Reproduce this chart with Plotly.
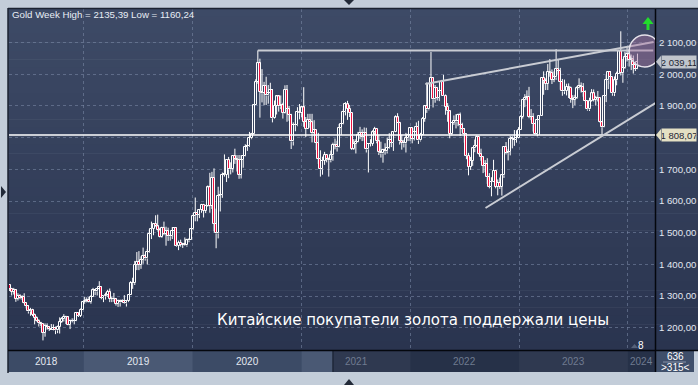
import plotly.graph_objects as go
import pandas as pd

# ---------------- data: weekly gold OHLC ----------------
opens = [
    # 2018 (from 27 Apr)
    1336, 1323, 1314, 1319, 1291, 1301, 1294, 1298, 1278, 1270, 1252, 1256, 1241, 1231, 1223, 1214, 1212, 1184,
    1206, 1201, 1196, 1194, 1199, 1192, 1203, 1218, 1227, 1235, 1233, 1209, 1222, 1223, 1222, 1248, 1238, 1257,
    # 2019
    1281, 1285, 1289, 1282, 1298, 1318, 1315, 1322, 1328, 1294, 1299, 1302, 1313, 1292, 1291, 1290, 1276, 1286,
    1280, 1286, 1277, 1284, 1305, 1341, 1341, 1399, 1409, 1399, 1415, 1426, 1419, 1440, 1497, 1513, 1527, 1520,
    1507, 1488, 1516, 1497, 1505, 1489, 1490, 1505, 1514, 1459, 1468, 1462, 1464, 1460, 1476, 1478,
    # 2020
    1511, 1552, 1562, 1557, 1571, 1589, 1570, 1584, 1643, 1585, 1674, 1529, 1498, 1617, 1620, 1683, 1683, 1729,
    1700, 1702, 1743, 1734, 1730, 1683, 1730, 1743, 1771, 1774, 1798, 1810, 1902, 1975, 2035, 1944, 1940, 1964,
    1933, 1940, 1950, 1861, 1900, 1930, 1899, 1902, 1879, 1951, 1889, 1871, 1788, 1839, 1839, 1881,
    # 2021
    1877, 1895, 1850, 1828, 1856, 1848, 1814, 1824, 1784, 1734, 1700, 1727, 1745, 1732, 1729, 1744, 1777, 1777,
    1769, 1831, 1843, 1881, 1905, 1891, 1877, 1764, 1781, 1787, 1808, 1815, 1802, 1814, 1763, 1780, 1781, 1817,
    1827, 1788, 1754, 1750, 1761, 1757, 1768, 1793, 1783, 1818, 1864, 1846, 1788, 1783, 1782, 1798, 1808,
    # 2022
    1829, 1797, 1818, 1835, 1791, 1808, 1860, 1899, 1889, 1970, 1988, 1921, 1958, 1925, 1946, 1975, 1931, 1897,
    1883, 1811, 1846, 1853, 1851, 1871, 1840, 1827, 1811, 1742, 1708, 1727, 1766, 1775, 1802, 1747, 1738, 1712,
    1716, 1675, 1644, 1661, 1695, 1644, 1657, 1645, 1681, 1771, 1751, 1755, 1797, 1797, 1793, 1798,
    # 2023
    1824, 1865, 1920, 1926, 1928, 1865, 1865, 1842, 1811, 1856, 1868, 1989, 1978, 1969, 2008, 2004, 1983, 1990,
    2017, 2011, 1977, 1946, 1948, 1961, 1958, 1921, 1919, 1925, 1955, 1962, 1959, 1943, 1914, 1889, 1915, 1940,
    1919, 1924, 1925, 1848, 1833, 1932, 1981, 2006, 1992, 1940, 1981, 2002, 2072, 2004, 2020, 2053,
    # 2024
    2063, 2045, 2049, 2029, 2018,
]
highs = [
    1338, 1326, 1326, 1322, 1309, 1306, 1303, 1309, 1280, 1272, 1263, 1260, 1245, 1236, 1227, 1219, 1212, 1214,
    1214, 1206, 1212, 1211, 1204, 1207, 1233, 1234, 1243, 1238, 1237, 1226, 1230, 1230, 1250, 1250, 1261, 1283,
    1298, 1296, 1297, 1303, 1326, 1319, 1326, 1347, 1330, 1300, 1311, 1320, 1324, 1298, 1310, 1293, 1289, 1289,
    1290, 1303, 1288, 1306, 1347, 1358, 1411, 1439, 1442, 1425, 1453, 1433, 1449, 1510, 1535, 1530, 1555, 1557,
    1516, 1519, 1535, 1519, 1516, 1498, 1518, 1516, 1516, 1475, 1478, 1468, 1485, 1481, 1483, 1513,
    1556, 1611, 1564, 1575, 1591, 1591, 1588, 1649, 1689, 1692, 1703, 1576, 1645, 1633, 1690, 1747, 1729, 1739,
    1722, 1744, 1765, 1745, 1745, 1745, 1745, 1779, 1789, 1818, 1815, 1905, 1984, 2075, 2049, 2016, 1976, 1992,
    1966, 1973, 1953, 1917, 1933, 1933, 1933, 1910, 1965, 1966, 1900, 1875, 1848, 1875, 1896, 1906,
    1900, 1959, 1865, 1875, 1875, 1875, 1855, 1824, 1815, 1760, 1740, 1755, 1746, 1737, 1759, 1784, 1797, 1790,
    1843, 1846, 1890, 1912, 1916, 1903, 1877, 1795, 1795, 1818, 1834, 1826, 1832, 1831, 1782, 1795, 1823, 1834,
    1827, 1809, 1787, 1765, 1782, 1800, 1814, 1813, 1818, 1870, 1877, 1850, 1809, 1793, 1815, 1812, 1831,
    1832, 1830, 1848, 1853, 1815, 1865, 1902, 1974, 1970, 2070, 1990, 1966, 1960, 1948, 1982, 1998, 1936, 1909,
    1885, 1849, 1870, 1874, 1876, 1879, 1847, 1830, 1813, 1752, 1739, 1767, 1794, 1807, 1802, 1765, 1740, 1729,
    1735, 1688, 1675, 1730, 1697, 1668, 1674, 1682, 1773, 1786, 1764, 1805, 1804, 1824, 1823, 1833,
    1870, 1922, 1937, 1949, 1960, 1890, 1877, 1847, 1858, 1870, 1989, 2009, 1987, 2032, 2048, 2015, 2009, 2079,
    2048, 2020, 1985, 1983, 1970, 1971, 1961, 1934, 1935, 1963, 1987, 1974, 1972, 1949, 1917, 1926, 1953, 1952,
    1932, 1947, 1927, 1850, 1933, 1997, 2010, 2010, 1992, 1993, 2008, 2075, 2135.39, 2048, 2071, 2088,
    2078, 2062, 2059, 2036, 2065,
]
lows = [
    1316, 1302, 1305, 1282, 1286, 1290, 1288, 1276, 1261, 1245, 1238, 1237, 1211, 1220, 1204, 1205, 1160.24, 1172,
    1194, 1190, 1193, 1192, 1180, 1183, 1182, 1215, 1220, 1212, 1208, 1196, 1217, 1211, 1221, 1234, 1234, 1256,
    1276, 1280, 1280, 1276, 1297, 1303, 1302, 1320, 1290, 1281, 1289, 1298, 1281, 1281, 1282, 1270, 1266, 1267,
    1279, 1275, 1267, 1281, 1305, 1323, 1335, 1382, 1382, 1386, 1402, 1412, 1400, 1437, 1480, 1492, 1518, 1504,
    1485, 1484, 1492, 1459, 1474, 1475, 1480, 1487, 1456, 1445, 1456, 1452, 1458, 1456, 1470, 1478,
    1508, 1536, 1536, 1546, 1563, 1548, 1562, 1582, 1563, 1575, 1504, 1451, 1482, 1567, 1610, 1677, 1660, 1672,
    1684, 1690, 1717, 1693, 1670, 1671, 1705, 1741, 1758, 1771, 1795, 1808, 1902, 1970, 1863, 1911, 1902, 1903,
    1907, 1930, 1848, 1859, 1873, 1882, 1890, 1860, 1876, 1850, 1853, 1764, 1775, 1820, 1836, 1858,
    1864, 1834, 1802, 1827, 1831, 1785, 1806, 1761, 1717, 1677, 1683, 1714, 1722, 1677, 1722, 1727, 1763, 1756,
    1768, 1808, 1842, 1870, 1856, 1865, 1761, 1761, 1750, 1785, 1795, 1789, 1790, 1753, 1690, 1772, 1774, 1808,
    1782, 1745, 1737, 1721, 1746, 1750, 1765, 1770, 1758, 1817, 1846, 1778, 1762, 1769, 1753, 1789, 1789,
    1782, 1791, 1805, 1780, 1788, 1807, 1850, 1878, 1886, 1960, 1895, 1910, 1917, 1915, 1941, 1931, 1872, 1850,
    1798, 1807, 1840, 1829, 1836, 1805, 1816, 1784, 1732, 1681, 1698, 1711, 1754, 1771, 1745, 1727, 1688, 1691,
    1654, 1640, 1615, 1660, 1640, 1618, 1638, 1617, 1673, 1747, 1728, 1744, 1766, 1774, 1784, 1797,
    1824, 1860, 1896, 1918, 1861, 1855, 1819, 1809, 1804, 1809, 1868, 1935, 1950, 1950, 1992, 1969, 1975, 1982,
    2000, 1951, 1932, 1937, 1933, 1925, 1910, 1893, 1902, 1922, 1952, 1942, 1929, 1911, 1885, 1884, 1913, 1914,
    1901, 1914, 1846, 1810, 1832, 1912, 1953, 1969, 1932, 1931, 1965, 2001, 1996, 1973, 2017, 2040,
    2024, 2013, 2002, 2010, 2016,
]
closes = [
    1323, 1314, 1319, 1291, 1301, 1294, 1298, 1278, 1270, 1252, 1256, 1241, 1231, 1223, 1214, 1212, 1184, 1206,
    1201, 1196, 1194, 1199, 1192, 1203, 1218, 1227, 1235, 1233, 1209, 1222, 1223, 1222, 1248, 1238, 1257, 1281,
    1285, 1289, 1282, 1298, 1318, 1315, 1322, 1328, 1294, 1299, 1302, 1313, 1292, 1291, 1290, 1276, 1286, 1280,
    1286, 1277, 1284, 1305, 1341, 1341, 1399, 1409, 1399, 1415, 1426, 1419, 1440, 1497, 1513, 1527, 1520, 1507,
    1488, 1516, 1497, 1505, 1489, 1490, 1505, 1514, 1459, 1468, 1462, 1464, 1460, 1476, 1478, 1511,
    1552, 1562, 1557, 1571, 1589, 1570, 1584, 1643, 1585, 1674, 1529, 1498, 1617, 1620, 1683, 1683, 1729, 1700,
    1702, 1743, 1734, 1730, 1683, 1730, 1743, 1771, 1774, 1798, 1810, 1902, 1975, 2035, 1944, 1940, 1964, 1933,
    1940, 1950, 1861, 1900, 1930, 1899, 1902, 1879, 1951, 1889, 1871, 1788, 1839, 1839, 1881, 1877,
    1895, 1850, 1828, 1856, 1848, 1814, 1824, 1784, 1734, 1700, 1727, 1745, 1732, 1729, 1744, 1777, 1777, 1769,
    1831, 1843, 1881, 1905, 1891, 1877, 1764, 1781, 1787, 1808, 1815, 1802, 1814, 1763, 1780, 1781, 1817, 1827,
    1788, 1754, 1750, 1761, 1757, 1768, 1793, 1783, 1818, 1864, 1846, 1788, 1783, 1782, 1798, 1808, 1829,
    1797, 1818, 1835, 1791, 1808, 1860, 1899, 1889, 1970, 1988, 1921, 1958, 1925, 1946, 1975, 1931, 1897, 1883,
    1811, 1846, 1853, 1851, 1871, 1840, 1827, 1811, 1742, 1708, 1727, 1766, 1775, 1802, 1747, 1738, 1712, 1716,
    1675, 1644, 1661, 1695, 1644, 1657, 1645, 1681, 1771, 1751, 1755, 1797, 1797, 1793, 1798, 1824,
    1865, 1920, 1926, 1928, 1865, 1865, 1842, 1811, 1856, 1868, 1989, 1978, 1969, 2008, 2004, 1983, 1990, 2017,
    2011, 1977, 1946, 1948, 1961, 1958, 1921, 1919, 1925, 1955, 1962, 1959, 1943, 1914, 1889, 1915, 1940, 1919,
    1924, 1925, 1848, 1833, 1932, 1981, 2006, 1992, 1940, 1981, 2002, 2072, 2004, 2020, 2053, 2063,
    2045, 2049, 2029, 2018, 2039.11,
]
FIRST_WEEK = "2018-04-27"
dates = pd.date_range(FIRST_WEEK, periods=len(closes), freq="W-FRI")

YEARS = [2018, 2019, 2020, 2021, 2022, 2023, 2024]
PRICE_TICKS = [1200, 1300, 1400, 1500, 1600, 1700, 1800, 1900, 2000, 2100]
HIDDEN_TICK = 1800  # covered by the 1 808,07 tag in the original

# analyst drawings (date, price)
SUPPORT_LEVEL = 1808.07
TOP_LINE = (("2020-08-07", 2075), ("2024-03-26", 2075))
UPPER_WEDGE = (("2022-02-20", 1969), ("2024-03-27", 2101.6))
LOWER_WEDGE = (("2022-09-10", 1578), ("2024-04-02", 1909))
CIRCLE = (("2024-01-05", 2022.7), ("2024-04-19", 2123.7))

CAPTION = "Китайские покупатели золота поддержали цены"

# ---------------- layout helpers ----------------
W, H = 698, 385
L, R, T, B = 9, 655, 9, 350
def PX(x):
    return (x - L) / (R - L)
def PY(y):
    return (B - y) / (B - T)

X0 = pd.Timestamp("2018-04-25")
X1 = X0 + pd.Timedelta(days=2167.8)
Y0, Y1 = 1130.0, 2205.7
dy_px = (Y1 - Y0) / (B - T)
day_px = (R - L) / 2167.8

TOP_C, BOT_C = (61, 74, 102), (42, 52, 79)
def grad(t):
    return tuple(int(round(a + (b - a) * t)) for a, b in zip(TOP_C, BOT_C))

def fmt(v):
    s = f"{v:,.2f}"
    return s.replace(",", " ").replace(".", ",")

# ---------------- candles (bodies as bars, wicks as lines) ----------------
body_lo = [min(o, c) for o, c in zip(opens, closes)]
body_hi = [max(o, c) for o, c in zip(opens, closes)]
body_h = [max(hi - lo, 0.8) for lo, hi in zip(body_lo, body_hi)]
fills = []
for o, c, lo, hi in zip(opens, closes, body_lo, body_hi):
    if c < o:
        fills.append("#ec1240")
    else:
        mid = (lo + hi) / 2
        fills.append("rgb%s" % (grad((Y1 - mid) / (Y1 - Y0)),))

wx, wy = [], []
for d, h, l, lo, hi in zip(dates, highs, lows, body_lo, body_hi):
    wx += [d, d, None, d, d, None]
    wy += [h, hi, None, lo, l, None]

fig = go.Figure()
fig.add_trace(go.Scatter(x=wx, y=wy, mode="lines", line=dict(color="#ffffff", width=1),
                         hoverinfo="skip", showlegend=False))
fig.add_trace(go.Bar(x=dates, y=body_h, base=body_lo, width=2.0 / day_px * 86400000,
                     marker=dict(color=fills, line=dict(color="#ffffff", width=1)),
                     hoverinfo="skip", showlegend=False))

shapes = []
# background gradient (plot + right scale panel)
N = 40
for i in range(N):
    c = grad(i / (N - 1))
    y0 = T - 1 + i * (B - T + 1) / N
    y1 = T - 1 + (i + 1) * (B - T + 1) / N + 0.5
    shapes.append(dict(type="rect", xref="paper", yref="paper", x0=PX(8), x1=PX(W),
                       y0=PY(y1), y1=PY(y0), fillcolor=f"rgb{c}", line_width=0, layer="below"))

# bottom time band
shapes.append(dict(type="rect", xref="paper", yref="paper", x0=PX(8), x1=PX(655),
                   y0=PY(372), y1=PY(351), fillcolor="#3c4b66", line_width=0, layer="below"))
for yr in YEARS:
    if yr % 2 == 1:
        shapes.append(dict(type="rect", xref="x", yref="paper",
                           x0=pd.Timestamp(f"{yr}-01-01"), x1=pd.Timestamp(f"{yr+1}-01-01"),
                           y0=PY(372), y1=PY(351), fillcolor="#4a5974", line_width=0, layer="below"))
SPLIT = 333
shapes.append(dict(type="rect", xref="paper", yref="paper", x0=PX(SPLIT), x1=PX(655),
                   y0=PY(372), y1=PY(351), fillcolor="rgba(10,15,30,0.42)", line_width=0, layer="below"))
shapes.append(dict(type="line", xref="paper", yref="paper", x0=PX(SPLIT), x1=PX(SPLIT),
                   y0=PY(372), y1=PY(351), line=dict(color="#1f2738", width=1.5), layer="below"))
# bottom-right counter box
shapes.append(dict(type="rect", xref="paper", yref="paper", x0=PX(656), x1=PX(694),
                   y0=PY(372), y1=PY(351), fillcolor="#3f4f6a", line_width=0, layer="below"))
shapes.append(dict(type="line", xref="paper", yref="paper", x0=PX(663), x1=PX(686),
                   y0=PY(362), y1=PY(362), line=dict(color="#8793a8", width=1), layer="below"))

# frame lines
shapes.append(dict(type="line", xref="paper", yref="paper", x0=PX(8), x1=PX(W), y0=PY(8.5), y1=PY(8.5),
                   line=dict(color="#1b2230", width=1.5)))
shapes.append(dict(type="line", xref="paper", yref="paper", x0=PX(8), x1=PX(8), y0=PY(8), y1=PY(373),
                   line=dict(color="#1b2230", width=1.5)))
shapes.append(dict(type="line", xref="paper", yref="paper", x0=PX(655.5), x1=PX(655.5), y0=PY(9), y1=PY(372),
                   line=dict(color="#04070d", width=1.5)))
shapes.append(dict(type="line", xref="paper", yref="paper", x0=PX(8), x1=PX(W), y0=PY(350.5), y1=PY(350.5),
                   line=dict(color="#04070d", width=1.5)))

# window arrows and small glyphs
def poly(pts, color="#222a38"):
    p = "M " + " L ".join(f"{PX(x)},{PY(y)}" for x, y in pts) + " Z"
    return dict(type="path", xref="paper", yref="paper", path=p, fillcolor=color, line_width=0)
shapes.append(poly([(344, 0), (354, 0), (349, 5)]))
shapes.append(poly([(1, 186), (6, 192), (1, 198)]))
shapes.append(poly([(344, 385), (354, 385), (349, 379)]))
shapes.append(poly([(631, 348), (638, 348), (634.5, 344)], "#56627a"))
# green up arrow
shapes.append(poly([(648, 17), (653.5, 24), (649.5, 24), (649.5, 30), (646.5, 30), (646.5, 24), (642.5, 24)],
                   "#22dd2c"))

# analyst lines
shapes.append(dict(type="line", xref="paper", yref="y", x0=0, x1=1, y0=SUPPORT_LEVEL, y1=SUPPORT_LEVEL,
                   line=dict(color="#ffffff", width=1.5), layer="above"))
for (a, b) in (TOP_LINE, UPPER_WEDGE, LOWER_WEDGE):
    shapes.append(dict(type="line", xref="x", yref="y", x0=a[0], y0=a[1], x1=b[0], y1=b[1],
                       line=dict(color="#c9ccd3", width=2), layer="above"))
shapes.append(dict(type="circle", xref="x", yref="y", x0=CIRCLE[0][0], y0=CIRCLE[0][1],
                   x1=CIRCLE[1][0], y1=CIRCLE[1][1], fillcolor="rgba(168,118,162,0.45)",
                   line=dict(color="#e6e2ea", width=1.5), layer="above"))

# price tag pointers
last_close = closes[-1]
TAGS = ((last_close, "#c0c5cc"), (SUPPORT_LEVEL, "#e4e0c4"))
for lvl, col in TAGS:
    p = f"M {PX(656)},{lvl} L {PX(661)},{lvl + 6 * dy_px} L {PX(661)},{lvl - 6 * dy_px} Z"
    shapes.append(dict(type="path", xref="paper", yref="y", path=p, fillcolor=col, line_width=0))

annotations = []
title = f"Gold Week High = {fmt(max(highs)).replace(' ', '')} Low = {fmt(min(lows)).replace(' ', '')}"
annotations.append(dict(text=title, xref="paper", yref="paper", x=PX(10), y=PY(14.5),
                        xanchor="left", yanchor="middle", showarrow=False,
                        font=dict(family="Liberation Sans", size=9.7, color="#e8edf5")))
annotations.append(dict(text=CAPTION, xref="paper", yref="paper", x=PX(413), y=PY(320),
                        xanchor="center", yanchor="middle", showarrow=False,
                        font=dict(family="DejaVu Sans", size=15, color="#ffffff")))
for lvl, col in TAGS:
    annotations.append(dict(text=fmt(lvl), xref="paper", yref="y", x=PX(661), y=lvl, width=34, height=12,
                            xanchor="left", yanchor="middle", showarrow=False, bgcolor=col, borderpad=0,
                            align="center",
                            font=dict(family="Liberation Sans", size=9.5, color="#1e2533")))
# year labels
span = (X1 - X0)
for yr in YEARS:
    a = max(pd.Timestamp(f"{yr}-01-01"), X0)
    b = min(pd.Timestamp(f"{yr+1}-01-01"), X1)
    mid = a + (b - a) / 2
    xp = (mid - X0) / span
    col = "#e4e9f1" if xp < PX(SPLIT) else "#6f7b90"
    annotations.append(dict(text=str(yr), xref="x", yref="paper", x=mid, y=PY(361.5),
                            xanchor="center", yanchor="middle", showarrow=False,
                            font=dict(family="Liberation Sans", size=10, color=col)))
annotations.append(dict(text="8", xref="paper", yref="paper", x=PX(641), y=PY(345.5), showarrow=False,
                        xanchor="center", yanchor="middle",
                        font=dict(family="Liberation Sans", size=10, color="#ffffff")))
annotations.append(dict(text="636", xref="paper", yref="paper", x=PX(675), y=PY(356.5), showarrow=False,
                        xanchor="center", yanchor="middle",
                        font=dict(family="Liberation Sans", size=10, color="#ffffff")))
annotations.append(dict(text="&gt;315&lt;", xref="paper", yref="paper", x=PX(675), y=PY(367), showarrow=False,
                        xanchor="center", yanchor="middle",
                        font=dict(family="Liberation Sans", size=10, color="#ffffff")))

fig.update_layout(
    template="none",
    width=W, height=H,
    margin=dict(l=L, r=W - R, t=T, b=H - B, pad=0),
    paper_bgcolor="#c3cdd9", plot_bgcolor="rgba(0,0,0,0)",
    shapes=shapes, annotations=annotations, barmode="overlay", bargap=0,
    xaxis=dict(type="date", range=[X0, X1], automargin=False,
               tickvals=[pd.Timestamp(f"{y}-01-01") for y in YEARS], showticklabels=False,
               showgrid=True, gridcolor="rgba(125,140,170,0.55)", griddash="3px,3px", gridwidth=1,
               zeroline=False, showline=False, ticks=""),
    yaxis=dict(side="right", range=[Y0, Y1], automargin=False, tickvals=PRICE_TICKS,
               ticktext=["" if v == HIDDEN_TICK else fmt(v) for v in PRICE_TICKS],
               showgrid=True, gridcolor="rgba(125,140,170,0.55)", griddash="3px,3px", gridwidth=1,
               zeroline=False, showline=False, ticks="", ticklabelstandoff=3,
               tickfont=dict(family="Liberation Sans", size=9.6, color="#e2e8f1")),
    showlegend=False,
)
fig.write_html("out.html", config={"displayModeBar": False})
